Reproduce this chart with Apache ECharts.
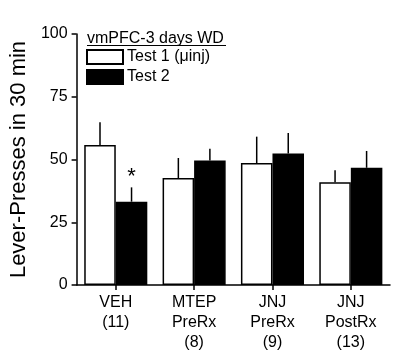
<!DOCTYPE html>
<html><head><meta charset="utf-8">
<script src="https://cdn.jsdelivr.net/npm/echarts@6/dist/echarts.min.js"></script>
<style>html,body{margin:0;padding:0;background:#fff}#c{width:400px;height:359px}</style>
</head><body><div id="c"></div>
<script>
const categories = ['VEH\n(11)', 'MTEP\nPreRx\n(8)', 'JNJ\nPreRx\n(9)', 'JNJ\nPostRx\n(13)'];
const test1Mean = [55.8, 42.6, 48.6, 40.9];
const test1Err  = [9.0, 8.0, 10.5, 4.8];
const test2Mean = [33.2, 49.6, 52.4, 46.7];
const test2Err  = [5.7, 4.7, 8.2, 6.7];
const test2Sig  = ['*', '', '', ''];
const yTicks = [0, 25, 50, 75, 100];
const legendTitle = 'vmPFC-3 days WD';
const seriesNames = ['Test 1 (\u03bcinj)', 'Test 2'];
const yName = 'Lever-Presses in 30 min';

const FONT = '"Liberation Sans", Arial, sans-serif';
const CAT_GAP = 0.195;

function errSeries(name, means, errs, side, sigs) {
  return {
    type: 'custom', name: name + ' err', z: 5, silent: true,
    data: means.map((m, i) => [i, m, errs[i], sigs ? sigs[i] : '']),
    renderItem: function (params, api) {
      const i = api.value(0), m = api.value(1), e = api.value(2);
      const s = sigs ? sigs[i] : '';
      const catW = api.size([1, 0])[0];
      const barW = catW * (1 - CAT_GAP) / 2;
      const p0 = api.coord([i, m]);
      const p1 = api.coord([i, m + e]);
      const x = p0[0] + side * barW / 2;
      const children = [{
        type: 'line',
        shape: { x1: x, y1: p0[1], x2: x, y2: p1[1] },
        style: { stroke: '#000', lineWidth: 1.5 }
      }];
      if (s) {
        children.push({
          type: 'text',
          style: { text: s, x: x, y: p1[1] - 10, fill: '#000', font: '22px ' + FONT,
                   align: 'center', verticalAlign: 'middle' }
        });
      }
      return { type: 'group', children: children };
    }
  };
}

const chart = echarts.init(document.getElementById('c'), null, { renderer: 'canvas' });
chart.setOption({
  animation: false,
  backgroundColor: '#fff',
  textStyle: { fontFamily: FONT },
  grid: { left: 76, right: 10, top: 34, bottom: 74, containLabel: false },
  legend: {
    orient: 'vertical', left: 86, top: 47, padding: 0, itemGap: 0,
    itemWidth: 36, itemHeight: 14, icon: 'rect',
    data: seriesNames,
    textStyle: { fontSize: 16, color: '#000', lineHeight: 20, fontFamily: FONT, padding: [0, 0, 0, -1] },
    selectedMode: false
  },
  graphic: [
    { type: 'text', left: 87, top: 31, style: { text: legendTitle, font: '16px ' + FONT, fill: '#000' } },
    { type: 'line', shape: { x1: 87, y1: 45.5, x2: 226, y2: 45.5 }, style: { stroke: '#000', lineWidth: 1.2 } }
  ],
  xAxis: {
    type: 'category', data: categories,
    axisLine: { lineStyle: { color: '#000', width: 1.5 } },
    axisTick: { show: true, alignWithLabel: true, length: 5, lineStyle: { color: '#000', width: 1.5 } },
    axisLabel: { color: '#000', fontSize: 16, lineHeight: 20, margin: 8, fontFamily: FONT, interval: 0 }
  },
  yAxis: {
    type: 'value', min: 0, max: 100, interval: 25,
    name: yName, nameLocation: 'middle', nameGap: 44,
    nameTextStyle: { fontSize: 22, color: '#000', fontFamily: FONT },
    axisLine: { show: true, lineStyle: { color: '#000', width: 1.5 } },
    axisTick: { show: true, length: 5, lineStyle: { color: '#000', width: 1.5 } },
    axisLabel: { color: '#000', fontSize: 16, margin: 9, fontFamily: FONT,
                 formatter: v => yTicks.includes(v) ? String(v) : '' },
    splitLine: { show: false }
  },
  series: [
    { type: 'bar', name: seriesNames[0], data: test1Mean, barGap: '0%', barCategoryGap: (CAT_GAP * 100) + '%',
      itemStyle: { color: '#fff', borderColor: '#000', borderWidth: 1.5 } },
    { type: 'bar', name: seriesNames[1], data: test2Mean, barGap: '0%', barCategoryGap: (CAT_GAP * 100) + '%',
      itemStyle: { color: '#000', borderColor: '#000', borderWidth: 1.5 } },
    errSeries(seriesNames[0], test1Mean, test1Err, -1, null),
    errSeries(seriesNames[1], test2Mean, test2Err, 1, test2Sig)
  ]
});
</script></body></html>
